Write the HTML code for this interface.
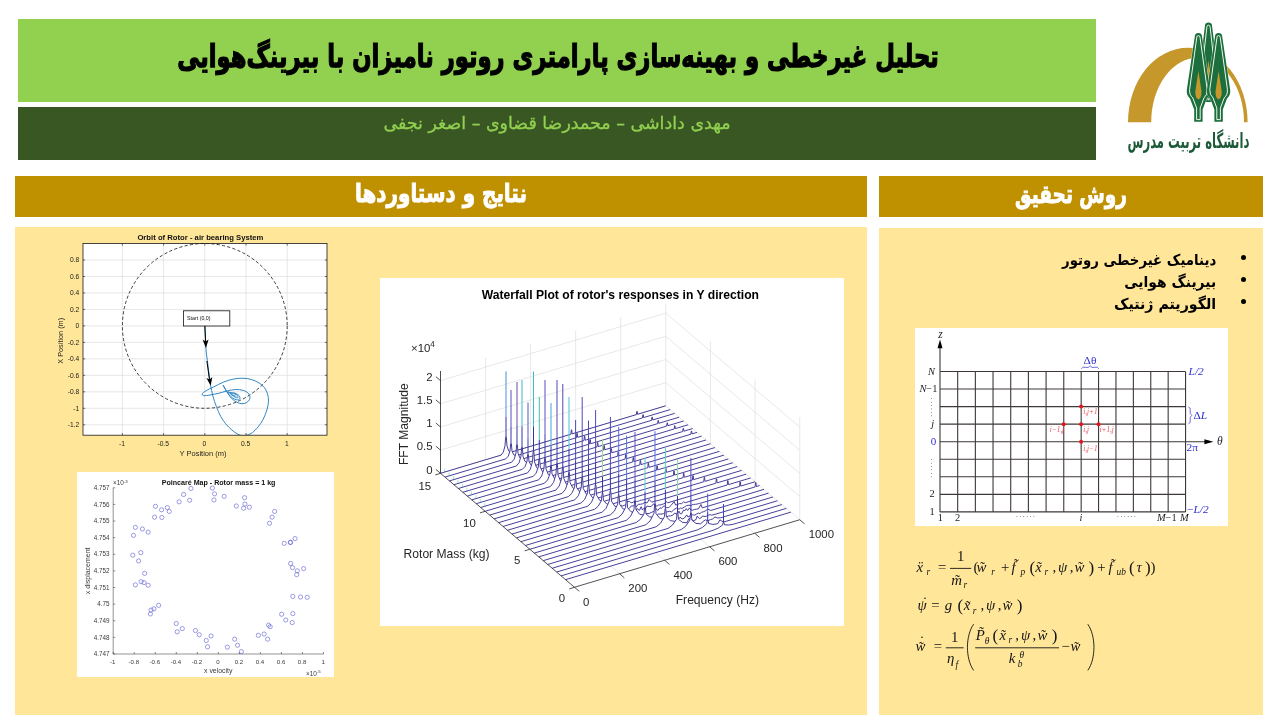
<!DOCTYPE html>
<html lang="fa">
<head>
<meta charset="utf-8">
<title>تحلیل غیرخطی و بهینه‌سازی پارامتری روتور نامیزان با بیرینگ‌هوایی</title>
<style>
*{box-sizing:border-box}
html,body{margin:0;padding:0}
body{width:1280px;height:720px;background:#fff;position:relative;overflow:hidden;font-family:"Liberation Sans","DejaVu Sans",sans-serif}
.abs{position:absolute}
.fa{font-family:"DejaVu Sans","Liberation Sans",sans-serif;direction:rtl;unicode-bidi:isolate;white-space:nowrap}
#title{left:18px;top:19px;width:1078px;height:83px;background:#92d050}
#title h1{margin:0;position:absolute;left:1px;right:-1px;top:15px;text-align:center;font-size:31px;line-height:44px;font-weight:bold;color:#000;transform:scaleX(.732);transform-origin:50% 50%;-webkit-text-stroke:1.25px #000}
#authors{left:18px;top:107px;width:1078px;height:53px;background:#385723}
#authors p{margin:0;position:absolute;left:0;right:0;top:2.5px;text-align:center;font-size:17.45px;line-height:26px;color:#92d050;-webkit-text-stroke:.3px #92d050}
.hd{background:#bf9000;height:41px;top:176px}
.hd h2{margin:0;position:absolute;left:0;right:0;top:-1px;text-align:center;color:#fff;font-weight:bold;font-size:25.5px;line-height:36px;transform-origin:50% 50%;-webkit-text-stroke:.9px #fff}
#hdl h2{transform:scaleX(.781)}
#hdr h2{transform:scaleX(.725);top:0}
#hdl{left:15px;width:852px}
#hdr{left:879px;width:384px}
.panel{background:#ffe699}
#pl{left:15px;top:227px;width:852px;height:488px}
#pr{left:879px;top:228px;width:384px;height:487px}
#bul{margin:0;padding:0;list-style:none;position:absolute;left:0;top:18.2px;width:384px}
#bul li{position:relative;height:22.1px;line-height:22.1px;font-size:15px;font-weight:bold;color:#000;text-align:right;padding-right:47px}
#bul li span{display:inline-block;position:relative;top:2.6px;transform:scaleX(.885);transform-origin:100% 50%}
#bul li:nth-child(2) span{transform:scaleX(.928)}
#bul li:nth-child(3) span{transform:scaleX(.945)}
#bul li::before{content:"";position:absolute;right:17px;top:8.4px;width:5px;height:5px;border-radius:50%;background:#000}
svg{position:absolute;left:0;top:0;overflow:visible}
svg{font-family:"Liberation Sans",sans-serif}
.ser{font-family:"Liberation Serif",serif}
</style>
</head>
<body>
<header id="title" class="abs"><h1 class="fa">تحلیل غیرخطی و بهینه‌سازی پارامتری روتور نامیزان با بیرینگ‌هوایی</h1></header>
<div id="authors" class="abs"><p class="fa">مهدی داداشی – محمدرضا قضاوی – اصغر نجفی</p></div>
<svg id="logo" width="1280" height="720" viewBox="0 0 1280 720" role="img" aria-label="Tarbiat Modares University">
<path fill="#c6972b" d="M1128 122.2A59.8 74.4 0 0 1 1247.6 122.2L1244 122.2A46.4 64.4 0 0 0 1151.2 122.2Z"/>
<path d="M1204.9 26.2A3.6 3.6 0 0 1 1212.1 26.2L1218.9 81Q1219.3 86.5 1215.7 89.5L1211.5 100L1211.5 102L1211.5 102L1205.5 102L1205.5 102L1205.5 100L1201.3 89.5Q1197.7 86.5 1198.1 81Z" fill="#1c6e3c" stroke="#fff" stroke-width="0.6" paint-order="stroke"/>
<path d="M1206.9 26.8A1.6 1.6 0 0 1 1210.1 26.8L1216.1 80.4Q1216.5 85.9 1212.9 88.9L1209.1 98.4L1209.1 99.8L1209.1 99.8L1207.9 99.8L1207.9 99.8L1207.9 98.4L1204.1 88.9Q1200.5 85.9 1200.9 80.4Z" fill="#1c6e3c" stroke="#eef6ea" stroke-width="1"/>
<path d="M1208.5 60.6L1211.6 82.13Q1211.6 89.5 1208.5 90.5Q1205.4 89.5 1205.4 82.13Z" fill="#c6972b"/>
<path d="M1194.8 36.6A3.6 3.6 0 0 1 1202 36.6L1210 90Q1210.4 95.5 1206.8 98.5L1202.6 109.6L1202.6 121.8L1202.6 121.8L1194.2 121.8L1194.2 121.8L1194.2 109.6L1190 98.5Q1186.4 95.5 1186.8 90Z" fill="#1c6e3c" stroke="#fff" stroke-width="0.6" paint-order="stroke"/>
<path d="M1196.8 37.2A1.6 1.6 0 0 1 1200 37.2L1207.2 89.4Q1207.6 94.9 1204 97.9L1200.2 108L1200.2 119.6L1200.2 119.6L1196.6 119.6L1196.6 119.6L1196.6 108L1192.8 97.9Q1189.2 94.9 1189.6 89.4Z" fill="#1c6e3c" stroke="#eef6ea" stroke-width="1"/>
<path d="M1198.4 71L1201.5 91.52Q1201.5 98.5 1198.4 99.5Q1195.3 98.5 1195.3 91.52Z" fill="#c6972b"/>
<path d="M1215 36.6A3.6 3.6 0 0 1 1222.2 36.6L1230.2 90Q1230.6 95.5 1227 98.5L1222.8 109.6L1222.8 121.8L1222.8 121.8L1214.4 121.8L1214.4 121.8L1214.4 109.6L1210.2 98.5Q1206.6 95.5 1207 90Z" fill="#1c6e3c" stroke="#fff" stroke-width="0.6" paint-order="stroke"/>
<path d="M1217 37.2A1.6 1.6 0 0 1 1220.2 37.2L1227.4 89.4Q1227.8 94.9 1224.2 97.9L1220.4 108L1220.4 119.6L1220.4 119.6L1216.8 119.6L1216.8 119.6L1216.8 108L1213 97.9Q1209.4 94.9 1209.8 89.4Z" fill="#1c6e3c" stroke="#eef6ea" stroke-width="1"/>
<path d="M1218.6 71L1221.7 91.52Q1221.7 98.5 1218.6 99.5Q1215.5 98.5 1215.5 91.52Z" fill="#c6972b"/>
<text x="1188.4" y="148.4" text-anchor="middle" font-family="&quot;DejaVu Sans&quot;,&quot;Liberation Sans&quot;,sans-serif" font-size="21" font-weight="bold" fill="#1d5a38" direction="rtl" textLength="122" lengthAdjust="spacingAndGlyphs">دانشگاه تربیت مدرس</text>
</svg>
<div id="hdl" class="abs hd"><h2 class="fa">نتایج و دستاوردها</h2></div>
<div id="hdr" class="abs hd"><h2 class="fa">روش تحقیق</h2></div>
<section id="pl" class="abs panel"></section>
<section id="pr" class="abs panel"><ul id="bul" class="fa"><li><span>دینامیک غیرخطی روتور</span></li><li><span>بیرینگ هوایی</span></li><li><span>الگوریتم ژنتیک</span></li></ul></section>
<svg id="orbit" width="1280" height="720" viewBox="0 0 1280 720" role="img" aria-label="Orbit of Rotor">
<rect x="83" y="243.5" width="244" height="191.7" fill="#fff"/>
<path d="M122.4 243.5V435.2M163.6 243.5V435.2M204.8 243.5V435.2M246 243.5V435.2M287.2 243.5V435.2M83 424.78H327M83 408.3H327M83 391.82H327M83 375.34H327M83 358.86H327M83 342.38H327M83 325.9H327M83 309.42H327M83 292.94H327M83 276.46H327M83 259.98H327" stroke="#dcdcdc" stroke-width="0.7" fill="none"/>
<circle cx="204.8" cy="325.9" r="82.4" fill="none" stroke="#1c1c1c" stroke-width="0.85" stroke-dasharray="3.2 2.2"/>
<clipPath id="oc"><rect x="83" y="243.5" width="244" height="191.7"/></clipPath>
<g clip-path="url(#oc)" fill="none" stroke="#1b79bd" stroke-width="0.9" stroke-linejoin="round">
<path d="M204.8 325.9L206.2 352L210.6 385.6"/>
<path d="M210.62 385.62C211.04 387.5 212.19 393.44 213.12 396.88C214.06 400.31 215 403.02 216.25 406.25C217.5 409.48 219.06 413.33 220.62 416.25C222.19 419.17 223.75 421.46 225.62 423.75C227.5 426.04 229.9 428.29 231.88 430C233.85 431.71 235.73 433.04 237.5 434C239.27 434.96 240.83 435.58 242.5 435.75C244.17 435.92 245.83 435.54 247.5 435C249.17 434.46 250.73 433.85 252.5 432.5C254.27 431.15 256.35 429.06 258.12 426.88C259.9 424.69 261.67 422.19 263.12 419.38C264.58 416.56 265.98 413.02 266.88 410C267.77 406.98 268.4 403.96 268.5 401.25C268.6 398.54 268.19 396.04 267.5 393.75C266.81 391.46 265.83 389.33 264.38 387.5C262.92 385.67 260.94 384.08 258.75 382.75C256.56 381.42 253.85 380.25 251.25 379.5C248.65 378.75 246.04 378.33 243.12 378.25C240.21 378.17 236.98 378.38 233.75 379C230.52 379.62 227.08 380.69 223.75 382C220.42 383.31 216.67 385.44 213.75 386.88C210.83 388.31 208.17 389.48 206.25 390.62C204.33 391.77 202.67 392.92 202.25 393.75C201.83 394.58 202.46 395.42 203.75 395.62C205.04 395.83 207.5 395.4 210 395C212.5 394.6 215.94 393.92 218.75 393.25C221.56 392.58 224.06 391.62 226.88 391C229.69 390.38 232.92 389.6 235.62 389.5C238.33 389.4 241.04 389.77 243.12 390.38C245.21 390.98 246.98 391.98 248.12 393.12C249.27 394.27 249.94 395.94 250 397.25C250.06 398.56 249.44 399.96 248.5 401C247.56 402.04 245.9 403.12 244.38 403.5C242.85 403.88 241.04 403.71 239.38 403.25C237.71 402.79 235.94 401.88 234.38 400.75C232.81 399.62 231.35 398.19 230 396.5C228.65 394.81 227.4 392.5 226.25 390.62C225.1 388.75 223.65 386.15 223.12 385.25"/>
<path d="M223.12 385.25C223.75 386.35 225.52 389.94 226.88 391.88C228.23 393.81 229.69 395.56 231.25 396.88C232.81 398.19 234.83 399.4 236.25 399.75C237.67 400.1 239.29 399.69 239.75 399C240.21 398.31 239.79 396.6 239 395.62C238.21 394.65 236.5 393.65 235 393.12C233.5 392.6 231.15 392.71 230 392.5C228.85 392.29 227.81 391.46 228.12 391.88C228.44 392.29 230.52 394.02 231.88 395C233.23 395.98 235.21 397.38 236.25 397.75C237.29 398.12 238.02 397.71 238.12 397.25C238.23 396.79 237.71 395.62 236.88 395C236.04 394.38 234.17 393.75 233.12 393.5C232.08 393.25 230.52 393.15 230.62 393.5C230.73 393.85 232.81 395.17 233.75 395.62C234.69 396.08 235.83 396.15 236.25 396.25"/>
</g>
<rect x="83" y="243.5" width="244" height="191.7" fill="none" stroke="#1a1a1a" stroke-width="0.8"/>
<path d="M122.4 435.2v-2.2M122.4 243.5v2.2M163.6 435.2v-2.2M163.6 243.5v2.2M204.8 435.2v-2.2M204.8 243.5v2.2M246 435.2v-2.2M246 243.5v2.2M287.2 435.2v-2.2M287.2 243.5v2.2M83 424.78h2.2M327 424.78h-2.2M83 408.3h2.2M327 408.3h-2.2M83 391.82h2.2M327 391.82h-2.2M83 375.34h2.2M327 375.34h-2.2M83 358.86h2.2M327 358.86h-2.2M83 342.38h2.2M327 342.38h-2.2M83 325.9h2.2M327 325.9h-2.2M83 309.42h2.2M327 309.42h-2.2M83 292.94h2.2M327 292.94h-2.2M83 276.46h2.2M327 276.46h-2.2M83 259.98h2.2M327 259.98h-2.2" stroke="#1a1a1a" stroke-width="0.6" fill="none"/>
<rect x="183.4" y="310.8" width="46.4" height="15.2" fill="#fff" stroke="#111" stroke-width="0.8"/>
<text x="187" y="320.4" font-size="5.3" text-anchor="start" fill="#111">Start (0,0)</text>
<path d="M204.9 326L205.6 342" stroke="#000" stroke-width="1" fill="none"/>
<path d="M202.6 339.6L205.9 348L208.6 339.4L205.7 341.6Z" fill="#000"/>
<path d="M206.9 361L209.5 380" stroke="#000" stroke-width="1" fill="none"/>
<path d="M206.4 378L210.7 385.8L212.3 377.1L209.6 379.6Z" fill="#000"/>
<text x="200.4" y="239.8" font-size="7.7" text-anchor="middle" fill="#111" font-weight="bold">Orbit of Rotor - air bearing System</text>
<text x="79.2" y="427.18" font-size="6.7" text-anchor="end" fill="#1a1a1a">-1.2</text>
<text x="79.2" y="410.7" font-size="6.7" text-anchor="end" fill="#1a1a1a">-1</text>
<text x="79.2" y="394.22" font-size="6.7" text-anchor="end" fill="#1a1a1a">-0.8</text>
<text x="79.2" y="377.74" font-size="6.7" text-anchor="end" fill="#1a1a1a">-0.6</text>
<text x="79.2" y="361.26" font-size="6.7" text-anchor="end" fill="#1a1a1a">-0.4</text>
<text x="79.2" y="344.78" font-size="6.7" text-anchor="end" fill="#1a1a1a">-0.2</text>
<text x="79.2" y="328.3" font-size="6.7" text-anchor="end" fill="#1a1a1a">0</text>
<text x="79.2" y="311.82" font-size="6.7" text-anchor="end" fill="#1a1a1a">0.2</text>
<text x="79.2" y="295.34" font-size="6.7" text-anchor="end" fill="#1a1a1a">0.4</text>
<text x="79.2" y="278.86" font-size="6.7" text-anchor="end" fill="#1a1a1a">0.6</text>
<text x="79.2" y="262.38" font-size="6.7" text-anchor="end" fill="#1a1a1a">0.8</text>
<text x="122" y="446.3" font-size="6.7" text-anchor="middle" fill="#1a1a1a">-1</text>
<text x="163.2" y="446.3" font-size="6.7" text-anchor="middle" fill="#1a1a1a">-0.5</text>
<text x="204.4" y="446.3" font-size="6.7" text-anchor="middle" fill="#1a1a1a">0</text>
<text x="245.6" y="446.3" font-size="6.7" text-anchor="middle" fill="#1a1a1a">0.5</text>
<text x="286.8" y="446.3" font-size="6.7" text-anchor="middle" fill="#1a1a1a">1</text>
<text x="203" y="456.2" font-size="7.5" text-anchor="middle" fill="#262626">Y Position (m)</text>
<text x="0" y="0" font-size="7.3" text-anchor="middle" fill="#262626" transform="translate(62.8 340.8) rotate(-90)">X Position (m)</text>
</svg>
<svg id="poincare" width="1280" height="720" viewBox="0 0 1280 720" role="img" aria-label="Poincare Map">
<rect x="77" y="472" width="257" height="205" fill="#fff"/>
<path d="M113.2 487.8V654H323.5" fill="none" stroke="#4a4a4a" stroke-width="0.6"/>
<path d="M113.2 487.8h2M113.2 654v-2M113.2 504.42h2M134.23 654v-2M113.2 521.04h2M155.26 654v-2M113.2 537.66h2M176.29 654v-2M113.2 554.28h2M197.32 654v-2M113.2 570.9h2M218.35 654v-2M113.2 587.52h2M239.38 654v-2M113.2 604.14h2M260.41 654v-2M113.2 620.76h2M281.44 654v-2M113.2 637.38h2M302.47 654v-2M113.2 654h2M323.5 654v-2" stroke="#3a3a3a" stroke-width="0.6" fill="none"/>
<g fill="none" stroke="#5a5ad2" stroke-width="0.6">
<circle cx="212.35" cy="488.11" r="2.1"/><circle cx="190.95" cy="488.43" r="2.1"/><circle cx="183.6" cy="494.49" r="2.1"/><circle cx="214.58" cy="493.85" r="2.1"/><circle cx="213.94" cy="499.92" r="2.1"/><circle cx="224.16" cy="496.41" r="2.1"/><circle cx="179.13" cy="501.84" r="2.1"/><circle cx="189.67" cy="500.24" r="2.1"/><circle cx="244.6" cy="497.69" r="2.1"/><circle cx="236.3" cy="505.99" r="2.1"/><circle cx="244.92" cy="504.07" r="2.1"/><circle cx="243.65" cy="508.23" r="2.1"/><circle cx="249.39" cy="507.27" r="2.1"/><circle cx="155.5" cy="506.31" r="2.1"/><circle cx="161.56" cy="509.82" r="2.1"/><circle cx="167.31" cy="507.59" r="2.1"/><circle cx="169.23" cy="511.42" r="2.1"/><circle cx="154.54" cy="517.17" r="2.1"/><circle cx="161.88" cy="517.49" r="2.1"/><circle cx="274.63" cy="511.42" r="2.1"/><circle cx="272.07" cy="517.17" r="2.1"/><circle cx="269.52" cy="523.24" r="2.1"/><circle cx="135.37" cy="527.39" r="2.1"/><circle cx="142.4" cy="528.99" r="2.1"/><circle cx="148.15" cy="532.18" r="2.1"/><circle cx="133.46" cy="535.37" r="2.1"/><circle cx="295.07" cy="538.57" r="2.1"/><circle cx="284.21" cy="543.36" r="2.1"/><circle cx="290.28" cy="542.4" r="2.1"/><circle cx="290.59" cy="542.4" r="2.1"/><circle cx="132.82" cy="555.18" r="2.1"/><circle cx="140.8" cy="552.62" r="2.1"/><circle cx="138.57" cy="560.93" r="2.1"/><circle cx="290.59" cy="563.48" r="2.1"/><circle cx="292.51" cy="567.63" r="2.1"/><circle cx="297.3" cy="570.83" r="2.1"/><circle cx="303.69" cy="568.59" r="2.1"/><circle cx="296.66" cy="574.66" r="2.1"/><circle cx="144.64" cy="573.38" r="2.1"/><circle cx="141.12" cy="581.69" r="2.1"/><circle cx="144" cy="582.64" r="2.1"/><circle cx="135.37" cy="584.88" r="2.1"/><circle cx="148.15" cy="585.2" r="2.1"/><circle cx="292.83" cy="596.38" r="2.1"/><circle cx="300.5" cy="597.02" r="2.1"/><circle cx="307.2" cy="597.33" r="2.1"/><circle cx="158.69" cy="605.32" r="2.1"/><circle cx="153.9" cy="608.83" r="2.1"/><circle cx="151.02" cy="610.11" r="2.1"/><circle cx="150.39" cy="613.94" r="2.1"/><circle cx="281.65" cy="614.26" r="2.1"/><circle cx="292.83" cy="613.62" r="2.1"/><circle cx="285.8" cy="620.01" r="2.1"/><circle cx="292.19" cy="622.57" r="2.1"/><circle cx="176.26" cy="623.52" r="2.1"/><circle cx="182.32" cy="628.63" r="2.1"/><circle cx="177.21" cy="631.83" r="2.1"/><circle cx="195.42" cy="630.55" r="2.1"/><circle cx="199.25" cy="634.7" r="2.1"/><circle cx="211.07" cy="635.98" r="2.1"/><circle cx="268.56" cy="625.12" r="2.1"/><circle cx="270.15" cy="626.72" r="2.1"/><circle cx="258.34" cy="635.34" r="2.1"/><circle cx="264.09" cy="634.06" r="2.1"/><circle cx="267.6" cy="639.17" r="2.1"/><circle cx="234.7" cy="639.17" r="2.1"/><circle cx="237.58" cy="645.24" r="2.1"/><circle cx="241.41" cy="651.63" r="2.1"/><circle cx="206.28" cy="640.45" r="2.1"/><circle cx="207.56" cy="646.84" r="2.1"/><circle cx="227.36" cy="647.16" r="2.1"/>
</g>
<text x="218.6" y="484.6" font-size="7.1" text-anchor="middle" fill="#111" font-weight="bold">Poincaré Map - Rotor mass = 1 kg</text>
<text x="109.6" y="490" font-size="6.3" text-anchor="end" fill="#3a3a3a">4.757</text>
<text x="109.6" y="506.62" font-size="6.3" text-anchor="end" fill="#3a3a3a">4.756</text>
<text x="109.6" y="523.24" font-size="6.3" text-anchor="end" fill="#3a3a3a">4.755</text>
<text x="109.6" y="539.86" font-size="6.3" text-anchor="end" fill="#3a3a3a">4.754</text>
<text x="109.6" y="556.48" font-size="6.3" text-anchor="end" fill="#3a3a3a">4.753</text>
<text x="109.6" y="573.1" font-size="6.3" text-anchor="end" fill="#3a3a3a">4.752</text>
<text x="109.6" y="589.72" font-size="6.3" text-anchor="end" fill="#3a3a3a">4.751</text>
<text x="109.6" y="606.34" font-size="6.3" text-anchor="end" fill="#3a3a3a">4.75</text>
<text x="109.6" y="622.96" font-size="6.3" text-anchor="end" fill="#3a3a3a">4.749</text>
<text x="109.6" y="639.58" font-size="6.3" text-anchor="end" fill="#3a3a3a">4.748</text>
<text x="109.6" y="656.2" font-size="6.3" text-anchor="end" fill="#3a3a3a">4.747</text>
<text x="112.8" y="663.8" font-size="6.1" text-anchor="middle" fill="#3a3a3a">-1</text>
<text x="133.83" y="663.8" font-size="6.1" text-anchor="middle" fill="#3a3a3a">-0.8</text>
<text x="154.86" y="663.8" font-size="6.1" text-anchor="middle" fill="#3a3a3a">-0.6</text>
<text x="175.89" y="663.8" font-size="6.1" text-anchor="middle" fill="#3a3a3a">-0.4</text>
<text x="196.92" y="663.8" font-size="6.1" text-anchor="middle" fill="#3a3a3a">-0.2</text>
<text x="217.95" y="663.8" font-size="6.1" text-anchor="middle" fill="#3a3a3a">0</text>
<text x="238.98" y="663.8" font-size="6.1" text-anchor="middle" fill="#3a3a3a">0.2</text>
<text x="260.01" y="663.8" font-size="6.1" text-anchor="middle" fill="#3a3a3a">0.4</text>
<text x="281.04" y="663.8" font-size="6.1" text-anchor="middle" fill="#3a3a3a">0.6</text>
<text x="302.07" y="663.8" font-size="6.1" text-anchor="middle" fill="#3a3a3a">0.8</text>
<text x="323.1" y="663.8" font-size="6.1" text-anchor="middle" fill="#3a3a3a">1</text>
<text x="218.2" y="673" font-size="6.9" text-anchor="middle" fill="#3a3a3a">x velocity</text>
<text x="0" y="0" font-size="7" text-anchor="middle" fill="#3a3a3a" transform="translate(90.2 570.8) rotate(-90)">x displacement</text>
<text x="113" y="485.2" font-size="6.4" fill="#3a3a3a">×10<tspan dy="-2.4" font-size="4.4">-3</tspan></text>
<text x="306" y="675.6" font-size="6.4" fill="#3a3a3a">×10<tspan dy="-2.4" font-size="4.4">-5</tspan></text>
</svg>
<svg id="waterfall" width="1280" height="720" viewBox="0 0 1280 720" role="img" aria-label="Waterfall plot">
<rect x="380" y="278" width="464" height="348" fill="#fff"/>
<path d="M440.5 473.3V371.01M485.55 459.8V357.51M530.6 446.3V344.01M575.65 432.8V330.51M620.7 419.3V317.01M665.75 405.8V303.51M710.42 443.78V341.49M755.08 481.77V379.47M799.75 519.75V417.46M440.5 473.3L665.75 405.8L799.75 519.75M440.5 450.12L665.75 382.62L799.75 496.57M440.5 426.95L665.75 359.45L799.75 473.4M440.5 403.77L665.75 336.27L799.75 450.23M440.5 380.6L665.75 313.1L799.75 427.05M610.62 566.15L619.55 573.75M655.67 552.65L664.6 560.25M700.72 539.15L709.65 546.75M745.77 525.65L754.7 533.25" fill="none" stroke="#dedede" stroke-width="0.7"/>
<g fill="none" stroke-linejoin="round" stroke-linecap="butt">
<path d="M440.5 473.3L501.06 455.15L503.4 451.98L505 445.73L505.65 437.2L506.35 437.2L507 445.96L508.6 450.83L510.94 452.19L570.9 434.22L571.3 429.84L571.7 429.84L572.1 433.86L636.4 414.6L636.8 411.42L637.2 411.42L637.6 414.24L665.75 405.8Z" fill="#fff" stroke="none"/>
<path d="M444.55 472.09v-3.4" stroke="#8fe0d2" stroke-width="0.8"/>
<path d="M440.5 473.3L501.06 455.15L503.4 451.98L505 445.73L505.65 437.2L506.35 437.2L507 445.96L508.6 450.83L510.94 452.19L570.9 434.22L571.3 429.84L571.7 429.84L572.1 433.86L636.4 414.6L636.8 411.42L637.2 411.42L637.6 414.24L665.75 405.8" stroke="#33298f" stroke-width="0.9"/>
<path d="M506 437.2V416.6" stroke="#3436a8" stroke-width="1"/>
<path d="M506 416.6V371.3" stroke="#4a8fd6" stroke-width="1"/>
<path d="M444.97 477.1L505.87 458.85L508.3 456.1L510 450.88L510.65 443.85L511.35 443.85L512 450.95L513.7 454.82L516.13 455.77L576.43 437.7L576.83 433.32L577.23 433.32L577.63 437.34L642.47 417.91L642.87 414.73L643.27 414.73L643.67 417.55L670.22 409.6Z" fill="#fff" stroke="none"/>
<path d="M449.02 475.88v-3.4" stroke="#8fe0d2" stroke-width="0.8"/>
<path d="M444.97 477.1L505.87 458.85L508.3 456.1L510 450.88L510.65 443.85L511.35 443.85L512 450.95L513.7 454.82L516.13 455.77L576.43 437.7L576.83 433.32L577.23 433.32L577.63 437.34L642.47 417.91L642.87 414.73L643.27 414.73L643.67 417.55L670.22 409.6" stroke="#33298f" stroke-width="0.9"/>
<path d="M511 443.85V427.02" stroke="#3436a8" stroke-width="1"/>
<path d="M511 427.02V390" stroke="#5b4fc0" stroke-width="1"/>
<path d="M449.43 480.9L511.68 462.24L514.2 459.13L516 453.08L516.65 444.92L517.35 444.92L518 453.27L519.8 457.84L522.32 459.05L583.97 440.58L584.37 436.2L584.77 436.2L585.17 440.22L651.53 420.33L651.93 417.15L652.33 417.15L652.73 419.97L674.68 413.4Z" fill="#fff" stroke="none"/>
<path d="M453.49 479.68v-3.4" stroke="#8fe0d2" stroke-width="0.8"/>
<path d="M449.43 480.9L511.68 462.24L514.2 459.13L516 453.08L516.65 444.92L517.35 444.92L518 453.27L519.8 457.84L522.32 459.05L583.97 440.58L584.37 436.2L584.77 436.2L585.17 440.22L651.53 420.33L651.93 417.15L652.33 417.15L652.73 419.97L674.68 413.4" stroke="#33298f" stroke-width="0.9"/>
<path d="M517 444.92V425.26" stroke="#3436a8" stroke-width="1"/>
<path d="M517 425.26V382" stroke="#6a4aa8" stroke-width="1"/>
<path d="M453.9 484.69L516.49 465.94L519.1 462.63L521 456.16L521.65 447.43L522.35 447.43L523 456.4L524.9 461.31L527.51 462.64L589.5 444.06L589.9 439.68L590.3 439.68L590.7 443.7L657.6 423.65L658 420.47L658.4 420.47L658.8 423.29L679.15 417.19Z" fill="#fff" stroke="none"/>
<path d="M457.95 483.48v-3.4" stroke="#8fe0d2" stroke-width="0.8"/>
<path d="M453.9 484.69L516.49 465.94L519.1 462.63L521 456.16L521.65 447.43L522.35 447.43L523 456.4L524.9 461.31L527.51 462.64L589.5 444.06L589.9 439.68L590.3 439.68L590.7 443.7L657.6 423.65L658 420.47L658.4 420.47L658.8 423.29L679.15 417.19" stroke="#33298f" stroke-width="0.9"/>
<path d="M522 447.43V426.36" stroke="#3436a8" stroke-width="1"/>
<path d="M522 426.36V380" stroke="#3fb8c8" stroke-width="1"/>
<path d="M458.37 488.49L522.3 469.33L525 466.57L527 461.41L527.65 454.6L528.35 454.6L529 461.47L531 465.1L533.7 465.92L597.03 446.94L597.43 442.56L597.83 442.56L598.23 446.58L666.67 426.07L667.07 422.89L667.47 422.89L667.87 425.71L683.62 420.99Z" fill="#fff" stroke="none"/>
<path d="M462.42 487.28v-3.4" stroke="#8fe0d2" stroke-width="0.8"/>
<path d="M458.37 488.49L522.3 469.33L525 466.57L527 461.41L527.65 454.6L528.35 454.6L529 461.47L531 465.1L533.7 465.92L597.03 446.94L597.43 442.56L597.83 442.56L598.23 446.58L666.67 426.07L667.07 422.89L667.47 422.89L667.87 425.71L683.62 420.99" stroke="#33298f" stroke-width="0.9"/>
<path d="M528 454.6V438.32" stroke="#3436a8" stroke-width="1"/>
<path d="M528 438.32V402.5" stroke="#5a55c4" stroke-width="1"/>
<path d="M462.83 492.29L527.61 472.88L530.4 469.06L532.5 461.45L533.15 451.19L533.85 451.19L534.5 461.85L536.6 467.7L539.39 469.35L603.57 450.12L603.97 445.74L604.37 445.74L604.77 449.76L674.23 428.94L674.63 425.76L675.03 425.76L675.43 428.58L688.08 424.79Z" fill="#fff" stroke="none"/>
<path d="M466.89 491.08v-3.4" stroke="#8fe0d2" stroke-width="0.8"/>
<path d="M462.83 492.29L527.61 472.88L530.4 469.06L532.5 461.45L533.15 451.19L533.85 451.19L534.5 461.85L536.6 467.7L539.39 469.35L603.57 450.12L603.97 445.74L604.37 445.74L604.77 449.76L674.23 428.94L674.63 425.76L675.03 425.76L675.43 428.58L688.08 424.79" stroke="#33298f" stroke-width="0.9"/>
<path d="M533.5 451.19V426.29" stroke="#3436a8" stroke-width="1"/>
<path d="M533.5 426.29V371.5" stroke="#39c0cc" stroke-width="1"/>
<path d="M467.3 496.09L533.22 476.34L536.1 473.15L538.3 467.06L538.95 459.01L539.65 459.01L540.3 467.24L542.5 471.62L545.38 472.69L610.7 453.12L611.1 448.74L611.5 448.74L611.9 452.76L682.7 431.54L683.1 428.36L683.5 428.36L683.9 431.18L692.55 428.59Z" fill="#fff" stroke="none"/>
<path d="M471.35 494.88v-3.4" stroke="#8fe0d2" stroke-width="0.8"/>
<path d="M467.3 496.09L533.22 476.34L536.1 473.15L538.3 467.06L538.95 459.01L539.65 459.01L540.3 467.24L542.5 471.62L545.38 472.69L610.7 453.12L611.1 448.74L611.5 448.74L611.9 452.76L682.7 431.54L683.1 428.36L683.5 428.36L683.9 431.18L692.55 428.59" stroke="#33298f" stroke-width="0.9"/>
<path d="M539.3 459.01V439.63" stroke="#3436a8" stroke-width="1"/>
<path d="M539.3 439.63V397" stroke="#3fc0b0" stroke-width="1"/>
<path d="M471.77 499.89L538.73 479.82L541.7 475.99L544 468.45L544.65 458.35L545.35 458.35L546 468.83L548.3 474.51L551.27 476.06L617.63 456.18L618.03 451.8L618.43 451.8L618.83 455.82L690.87 434.23L691.27 431.05L691.67 431.05L692.07 433.87L697.02 432.39Z" fill="#fff" stroke="none"/>
<path d="M475.82 498.67v-3.4" stroke="#8fe0d2" stroke-width="0.8"/>
<path d="M471.77 499.89L538.73 479.82L541.7 475.99L544 468.45L544.65 458.35L545.35 458.35L546 468.83L548.3 474.51L551.27 476.06L617.63 456.18L618.03 451.8L618.43 451.8L618.83 455.82L690.87 434.23L691.27 431.05L691.67 431.05L692.07 433.87L697.02 432.39" stroke="#33298f" stroke-width="0.9"/>
<path d="M545 458.35V433.87" stroke="#3436a8" stroke-width="1"/>
<path d="M545 433.87V380" stroke="#5a4fc0" stroke-width="1"/>
<path d="M476.23 503.69L544.54 483.22L547.6 479.95L550 473.75L550.65 465.63L551.35 465.63L552 473.94L554.4 478.31L557.46 479.35L625.17 459.06L625.57 454.68L625.97 454.68L626.37 458.7L701.48 436.19Z" fill="#fff" stroke="none"/>
<path d="M480.29 502.47v-3.4" stroke="#8fe0d2" stroke-width="0.8"/>
<path d="M476.23 503.69L544.54 483.22L547.6 479.95L550 473.75L550.65 465.63L551.35 465.63L552 473.94L554.4 478.31L557.46 479.35L625.17 459.06L625.57 454.68L625.97 454.68L626.37 458.7L701.48 436.19" stroke="#33298f" stroke-width="0.9"/>
<path d="M551 465.63V446.05" stroke="#3436a8" stroke-width="1"/>
<path d="M551 446.05V403" stroke="#46a0dc" stroke-width="1"/>
<path d="M480.7 507.49L550.35 486.61L553.5 482.53L556 474.46L556.65 463.7L557.35 463.7L558 474.9L560.5 480.96L563.65 482.63L632.7 461.94L633.1 457.56L633.5 457.56L633.9 461.58L705.95 439.99Z" fill="#fff" stroke="none"/>
<path d="M484.75 506.27v-3.4" stroke="#8fe0d2" stroke-width="0.8"/>
<path d="M480.7 507.49L550.35 486.61L553.5 482.53L556 474.46L556.65 463.7L557.35 463.7L558 474.9L560.5 480.96L563.65 482.63L632.7 461.94L633.1 457.56L633.5 457.56L633.9 461.58L705.95 439.99" stroke="#33298f" stroke-width="0.9"/>
<path d="M557 463.7V437.54" stroke="#3436a8" stroke-width="1"/>
<path d="M557 437.54V380" stroke="#5048b8" stroke-width="1"/>
<path d="M485.17 511.28L555.96 490.07L559.2 485.98L561.8 477.92L562.45 467.22L563.15 467.22L563.8 478.36L566.4 484.34L569.64 485.97L639.83 464.93L640.23 460.56L640.63 460.56L641.03 464.58L710.42 443.78Z" fill="#fff" stroke="none"/>
<path d="M485.17 511.28L555.96 490.07L559.2 485.98L561.8 477.92L562.45 467.22L563.15 467.22L563.8 478.36L566.4 484.34L569.64 485.97L639.83 464.93L640.23 460.56L640.63 460.56L641.03 464.58L710.42 443.78" stroke="#33298f" stroke-width="0.9"/>
<path d="M562.8 467.22V441.21" stroke="#3436a8" stroke-width="1"/>
<path d="M562.8 441.21V384" stroke="#5048b8" stroke-width="1"/>
<path d="M489.63 515.08L561.97 493.4L565.3 489.58L568 482.17L568.65 472.44L569.35 472.44L570 482.51L572.7 487.83L576.03 489.19L647.77 467.69L648.17 463.31L648.57 463.31L648.97 467.33L714.88 447.58Z" fill="#fff" stroke="none"/>
<path d="M489.63 515.08L561.97 493.4L565.3 489.58L568 482.17L568.65 472.44L569.35 472.44L570 482.51L572.7 487.83L576.03 489.19L647.77 467.69L648.17 463.31L648.57 463.31L648.97 467.33L714.88 447.58" stroke="#33298f" stroke-width="0.9"/>
<path d="M569 472.44V448.86" stroke="#3436a8" stroke-width="1"/>
<path d="M569 448.86V397" stroke="#46c4d4" stroke-width="1"/>
<path d="M494.1 518.88L568.38 496.62L571.8 493.36L574.6 487.31L575.25 479.57L575.95 479.57L576.6 487.46L579.4 491.46L582.82 492.29L656.5 470.21L656.9 465.83L657.3 465.83L657.7 469.85L719.35 451.38Z" fill="#fff" stroke="none"/>
<path d="M494.1 518.88L568.38 496.62L571.8 493.36L574.6 487.31L575.25 479.57L575.95 479.57L576.6 487.46L579.4 491.46L582.82 492.29L656.5 470.21L656.9 465.83L657.3 465.83L657.7 469.85L719.35 451.38" stroke="#33298f" stroke-width="0.9"/>
<path d="M575.6 479.57V460.95" stroke="#3436a8" stroke-width="1"/>
<path d="M575.6 460.95V420" stroke="#5048b8" stroke-width="1"/>
<path d="M498.57 522.68L574.79 499.84L578.3 495.77L581.2 487.85L581.85 477.49L582.55 477.49L583.2 488.26L586.1 493.93L589.61 495.4L665.23 472.73L665.63 468.35L666.03 468.35L666.43 472.37L723.82 455.18Z" fill="#fff" stroke="none"/>
<path d="M498.57 522.68L574.79 499.84L578.3 495.77L581.2 487.85L581.85 477.49L582.55 477.49L583.2 488.26L586.1 493.93L589.61 495.4L665.23 472.73L665.63 468.35L666.03 468.35L666.43 472.37L723.82 455.18" stroke="#33298f" stroke-width="0.9"/>
<path d="M582.2 477.49V452.34" stroke="#3436a8" stroke-width="1"/>
<path d="M582.2 452.34V397" stroke="#5048b8" stroke-width="1"/>
<path d="M503.03 526.48L580.9 503.14L584.5 499.66L587.5 493.14L588.15 484.81L588.85 484.81L589.5 493.34L592.5 497.66L596.1 498.59L673.37 475.43L673.77 471.05L674.17 471.05L674.57 475.07L728.28 458.98Z" fill="#fff" stroke="none"/>
<path d="M503.03 526.48L580.9 503.14L584.5 499.66L587.5 493.14L588.15 484.81L588.85 484.81L589.5 493.34L592.5 497.66L596.1 498.59L673.37 475.43L673.77 471.05L674.17 471.05L674.57 475.07L728.28 458.98" stroke="#33298f" stroke-width="0.9"/>
<path d="M588.5 484.81V464.75" stroke="#3436a8" stroke-width="1"/>
<path d="M588.5 464.75V420.6" stroke="#5048b8" stroke-width="1"/>
<path d="M507.5 530.27L587.81 506.21L591.5 502.29L594.6 494.79L595.25 485.1L595.95 485.1L596.6 495.13L599.7 500.3L603.39 501.54L683.1 477.65L683.5 473.27L683.9 473.27L684.3 477.29L732.75 462.77Z" fill="#fff" stroke="none"/>
<path d="M507.5 530.27L587.81 506.21L591.5 502.29L594.6 494.79L595.25 485.1L595.95 485.1L596.6 495.13L599.7 500.3L603.39 501.54L683.1 477.65L683.5 473.27L683.9 473.27L684.3 477.29L732.75 462.77" stroke="#33298f" stroke-width="0.9"/>
<path d="M595.6 485.1V461.63" stroke="#3436a8" stroke-width="1"/>
<path d="M595.6 461.63V410" stroke="#5048b8" stroke-width="1"/>
<path d="M511.97 534.07L594.52 509.33L598.3 506.15L601.5 500.42L602.15 493.29L602.85 493.29L603.5 500.5L606.7 503.98L610.48 504.55L692.43 479.99L692.83 475.61L693.23 475.61L693.63 479.63L737.22 466.57Z" fill="#fff" stroke="none"/>
<path d="M511.97 534.07L594.52 509.33L598.3 506.15L601.5 500.42L602.15 493.29L602.85 493.29L603.5 500.5L606.7 503.98L610.48 504.55L692.43 479.99L692.83 475.61L693.23 475.61L693.63 479.63L737.22 466.57" stroke="#33298f" stroke-width="0.9"/>
<path d="M602.5 493.29V476.23" stroke="#3436a8" stroke-width="1"/>
<path d="M602.5 476.23V438.7" stroke="#9ad88a" stroke-width="1"/>
<path d="M516.43 537.87L602.23 512.16L606.1 508.22L609.4 500.73L610.05 491.15L610.75 491.15L611.4 501.06L614.7 506.1L618.57 507.26L620.16 505.67L621.36 505.32L622.55 505.96L624.3 505.42L626.04 504.53L627.47 501.44L629.44 501.52L630.61 502.46L631.93 502.77L634.25 501.51L636.31 501.41L637.5 501.48L639.62 500.62L641.6 500.03L643.1 499.91L703.77 481.73L704.17 477.35L704.57 477.35L704.97 481.37L741.68 470.37Z" fill="#fff" stroke="none"/>
<path d="M516.43 537.87L602.23 512.16L606.1 508.22L609.4 500.73L610.05 491.15L610.75 491.15L611.4 501.06L614.7 506.1L618.57 507.26L620.16 505.67L621.36 505.32L622.55 505.96L624.3 505.42L626.04 504.53L627.47 501.44L629.44 501.52L630.61 502.46L631.93 502.77L634.25 501.51L636.31 501.41L637.5 501.48L639.62 500.62L641.6 500.03L643.1 499.91L703.77 481.73L704.17 477.35L704.57 477.35L704.97 481.37L741.68 470.37" stroke="#33298f" stroke-width="0.9"/>
<path d="M610.4 491.15V467.95" stroke="#3436a8" stroke-width="1"/>
<path d="M610.4 467.95V416.9" stroke="#5048b8" stroke-width="1"/>
<path d="M520.9 541.67L610.34 514.87L614.3 511.12L617.7 504.12L618.35 495.27L619.05 495.27L619.7 504.37L623.1 508.91L627.06 509.86L629.35 508.3L631.31 505.97L633.51 505.79L634.78 505.56L636.11 507.03L638.21 504.34L640.63 504.22L642.62 503.75L644.98 502.4L647.08 502.87L649.15 499.48L650.67 501.1L651.81 502.26L653.08 501.63L654.38 501.35L656.78 500.69L658.28 500.5L715.9 483.23L716.3 478.86L716.7 478.86L717.1 482.88L746.15 474.17Z" fill="#fff" stroke="none"/>
<path d="M520.9 541.67L610.34 514.87L614.3 511.12L617.7 504.12L618.35 495.27L619.05 495.27L619.7 504.37L623.1 508.91L627.06 509.86L629.35 508.3L631.31 505.97L633.51 505.79L634.78 505.56L636.11 507.03L638.21 504.34L640.63 504.22L642.62 503.75L644.98 502.4L647.08 502.87L649.15 499.48L650.67 501.1L651.81 502.26L653.08 501.63L654.38 501.35L656.78 500.69L658.28 500.5L715.9 483.23L716.3 478.86L716.7 478.86L717.1 482.88L746.15 474.17" stroke="#33298f" stroke-width="0.9"/>
<path d="M618.7 495.27V473.9" stroke="#3436a8" stroke-width="1"/>
<path d="M618.7 473.9V426.9" stroke="#5a6ce0" stroke-width="1"/>
<path d="M525.37 545.47L618.05 517.69L622.1 514.09L625.6 507.48L626.25 499.23L626.95 499.23L627.6 507.67L631.1 511.8L635.15 512.57L637.07 508.55L639.47 510.38L641.11 506.76L642.43 509.97L643.88 508.27L645.38 509L647.03 506.03L649.17 506.55L651.28 506.49L653.55 503.73L655.24 506.28L657.29 505.84L658.71 504.92L659.88 504.98L661.14 504.76L663.55 503.86L665.03 503.27L666.31 501.61L667.81 502.78L727.23 484.98L727.63 480.6L728.03 480.6L728.43 484.62L750.62 477.97Z" fill="#fff" stroke="none"/>
<path d="M525.37 545.47L618.05 517.69L622.1 514.09L625.6 507.48L626.25 499.23L626.95 499.23L627.6 507.67L631.1 511.8L635.15 512.57L637.07 508.55L639.47 510.38L641.11 506.76L642.43 509.97L643.88 508.27L645.38 509L647.03 506.03L649.17 506.55L651.28 506.49L653.55 503.73L655.24 506.28L657.29 505.84L658.71 504.92L659.88 504.98L661.14 504.76L663.55 503.86L665.03 503.27L666.31 501.61L667.81 502.78L727.23 484.98L727.63 480.6L728.03 480.6L728.43 484.62L750.62 477.97" stroke="#33298f" stroke-width="0.9"/>
<path d="M626.6 499.23V479.34" stroke="#3436a8" stroke-width="1"/>
<path d="M626.6 479.34V435.6" stroke="#4a78dc" stroke-width="1"/>
<path d="M529.83 549.27L626.26 520.37L630.4 516.55L634 509.47L634.65 500.58L635.35 500.58L636 509.73L639.6 514.23L643.74 515.13L645.54 514.35L646.79 513.59L649.14 513.48L651.66 512.32L653.58 511.5L656.14 508.54L657.64 510.56L659.89 507.95L661.49 508.22L664.07 505.74L666.39 507.5L668.27 507.71L669.41 506.88L671.55 504.81L674.06 501.69L675.7 505.11L677.1 504.66L679.55 503.62L681.63 503.65L683.72 501.81L685.22 502.7L739.57 486.42L739.97 482.04L740.37 482.04L740.77 486.06L755.08 481.77Z" fill="#fff" stroke="none"/>
<path d="M529.83 549.27L626.26 520.37L630.4 516.55L634 509.47L634.65 500.58L635.35 500.58L636 509.73L639.6 514.23L643.74 515.13L645.54 514.35L646.79 513.59L649.14 513.48L651.66 512.32L653.58 511.5L656.14 508.54L657.64 510.56L659.89 507.95L661.49 508.22L664.07 505.74L666.39 507.5L668.27 507.71L669.41 506.88L671.55 504.81L674.06 501.69L675.7 505.11L677.1 504.66L679.55 503.62L681.63 503.65L683.72 501.81L685.22 502.7L739.57 486.42L739.97 482.04L740.37 482.04L740.77 486.06L755.08 481.77" stroke="#33298f" stroke-width="0.9"/>
<path d="M635 500.58V479.12" stroke="#3436a8" stroke-width="1"/>
<path d="M635 479.12V431.9" stroke="#5a55c4" stroke-width="1"/>
<path d="M534.3 553.07L636.07 522.57L640.3 519.44L644 514L644.65 507.51L645.35 507.51L646 514.02L649.7 516.94L653.93 517.22L656.16 516.04L658.44 514L661 514.08L663.52 513.72L664.81 512.41L667.12 511.86L669.69 511.29L671.61 511.89L674.17 509.36L676.67 508.07L679.01 509.22L680.55 508.06L682.03 508.45L684.5 506.95L686.47 505.67L688.95 505.18L690.84 505.6L692.21 504.77L693.57 504.52L695.5 504.28L697.44 504.01L699.38 503.37L700.88 503.15L755.1 486.9L755.5 482.52L755.9 482.52L756.3 486.54L759.55 485.56Z" fill="#fff" stroke="none"/>
<path d="M534.3 553.07L636.07 522.57L640.3 519.44L644 514L644.65 507.51L645.35 507.51L646 514.02L649.7 516.94L653.93 517.22L656.16 516.04L658.44 514L661 514.08L663.52 513.72L664.81 512.41L667.12 511.86L669.69 511.29L671.61 511.89L674.17 509.36L676.67 508.07L679.01 509.22L680.55 508.06L682.03 508.45L684.5 506.95L686.47 505.67L688.95 505.18L690.84 505.6L692.21 504.77L693.57 504.52L695.5 504.28L697.44 504.01L699.38 503.37L700.88 503.15L755.1 486.9L755.5 482.52L755.9 482.52L756.3 486.54L759.55 485.56" stroke="#33298f" stroke-width="0.9"/>
<path d="M645 507.51V492.04" stroke="#3436a8" stroke-width="1"/>
<path d="M645 492.04V458" stroke="#56d0c8" stroke-width="1"/>
<path d="M538.77 556.86L645.88 524.76L650.2 520.75L654 513.25L654.65 503.87L655.35 503.87L656 513.56L659.8 518.32L664.12 519.3L666.38 516.98L668.62 516.04L670.64 515.85L672.78 515.24L674.59 513.08L677.01 514.29L678.95 511.15L680.25 513.75L681.46 513.95L683.57 510L684.9 510.67L686.21 508.61L687.64 510.48L689.47 507.9L690.81 509.92L692.42 510.22L694.61 509.46L696.37 509.22L698.4 508.84L700.98 504.48L702.24 507.84L706.01 506.75L764.02 489.36Z" fill="#fff" stroke="none"/>
<path d="M538.77 556.86L645.88 524.76L650.2 520.75L654 513.25L654.65 503.87L655.35 503.87L656 513.56L659.8 518.32L664.12 519.3L666.38 516.98L668.62 516.04L670.64 515.85L672.78 515.24L674.59 513.08L677.01 514.29L678.95 511.15L680.25 513.75L681.46 513.95L683.57 510L684.9 510.67L686.21 508.61L687.64 510.48L689.47 507.9L690.81 509.92L692.42 510.22L694.61 509.46L696.37 509.22L698.4 508.84L700.98 504.48L702.24 507.84L706.01 506.75L764.02 489.36" stroke="#33298f" stroke-width="0.9"/>
<path d="M655 503.87V481.16" stroke="#3436a8" stroke-width="1"/>
<path d="M655 481.16V431.2" stroke="#5a6ce0" stroke-width="1"/>
<path d="M543.23 560.66L656.09 526.84L660.5 523.24L664.4 516.75L665.05 508.84L665.75 508.84L666.4 516.91L670.3 520.68L674.71 521.26L676.22 520.12L678.68 519.04L680.01 517.21L682.16 518.94L684.29 518.2L686.8 514.95L688.02 517L690.42 515.63L692.35 514.81L693.64 514.88L694.9 515.12L696.31 514.1L698.55 513.03L699.91 513.67L701.39 512.35L703.32 511.81L705.82 510.66L707.57 509.01L710.76 510.46L768.48 493.16Z" fill="#fff" stroke="none"/>
<path d="M543.23 560.66L656.09 526.84L660.5 523.24L664.4 516.75L665.05 508.84L665.75 508.84L666.4 516.91L670.3 520.68L674.71 521.26L676.22 520.12L678.68 519.04L680.01 517.21L682.16 518.94L684.29 518.2L686.8 514.95L688.02 517L690.42 515.63L692.35 514.81L693.64 514.88L694.9 515.12L696.31 514.1L698.55 513.03L699.91 513.67L701.39 512.35L703.32 511.81L705.82 510.66L707.57 509.01L710.76 510.46L768.48 493.16" stroke="#33298f" stroke-width="0.9"/>
<path d="M665.4 508.84V489.83" stroke="#3436a8" stroke-width="1"/>
<path d="M665.4 489.83V448" stroke="#56d0b8" stroke-width="1"/>
<path d="M547.7 564.46L668 528.41L672.5 525.08L676.5 519.25L677.15 512.33L677.85 512.33L678.5 519.31L682.5 522.41L687 522.72L688.86 518.68L690.47 518.83L692.53 520.16L693.71 520.59L695.92 519.71L697.15 516.14L699.25 518.52L700.79 518.15L702.56 516.04L705.12 516.54L707.67 515.72L708.77 515.01L710.63 514.69L711.73 515.12L714.93 514.35L772.95 496.96Z" fill="#fff" stroke="none"/>
<path d="M547.7 564.46L668 528.41L672.5 525.08L676.5 519.25L677.15 512.33L677.85 512.33L678.5 519.31L682.5 522.41L687 522.72L688.86 518.68L690.47 518.83L692.53 520.16L693.71 520.59L695.92 519.71L697.15 516.14L699.25 518.52L700.79 518.15L702.56 516.04L705.12 516.54L707.67 515.72L708.77 515.01L710.63 514.69L711.73 515.12L714.93 514.35L772.95 496.96" stroke="#33298f" stroke-width="0.9"/>
<path d="M677.5 512.33V495.79" stroke="#3436a8" stroke-width="1"/>
<path d="M677.5 495.79V459.4" stroke="#8ad8a8" stroke-width="1"/>
<path d="M552.17 568.26L681.21 529.59L685.8 526.15L689.9 520.12L690.55 512.95L691.25 512.95L691.9 520.2L696 523.44L700.59 523.78L701.75 523.04L703.2 521.31L705.43 519.87L707.85 520.78L710.42 519.6L712.49 519.09L714.93 517.04L717.24 517.91L720.6 517.78L777.42 500.76Z" fill="#fff" stroke="none"/>
<path d="M552.17 568.26L681.21 529.59L685.8 526.15L689.9 520.12L690.55 512.95L691.25 512.95L691.9 520.2L696 523.44L700.59 523.78L701.75 523.04L703.2 521.31L705.43 519.87L707.85 520.78L710.42 519.6L712.49 519.09L714.93 517.04L717.24 517.91L720.6 517.78L777.42 500.76" stroke="#33298f" stroke-width="0.9"/>
<path d="M690.9 512.95V495.78" stroke="#3436a8" stroke-width="1"/>
<path d="M690.9 495.78V458" stroke="#5048b8" stroke-width="1"/>
<path d="M556.63 572.06L697.82 529.75L702.5 527.35L706.7 523.77L707.35 520.15L708.05 520.15L708.7 523.5L712.9 524.4L717.58 523.83L719.93 519.87L723.41 522.08L781.88 504.56Z" fill="#fff" stroke="none"/>
<path d="M556.63 572.06L697.82 529.75L702.5 527.35L706.7 523.77L707.35 520.15L708.05 520.15L708.7 523.5L712.9 524.4L717.58 523.83L719.93 519.87L723.41 522.08L781.88 504.56" stroke="#33298f" stroke-width="0.9"/>
<path d="M707.7 520.15V511.85" stroke="#3436a8" stroke-width="1"/>
<path d="M707.7 511.85V493.6" stroke="#4a5ad0" stroke-width="1"/>
<path d="M561.1 575.86L713.43 530.21L718.2 528.08L722.5 525.17L723.15 522.55L723.85 522.55L724.5 524.8L728.8 525.02L733.57 524.17L737.51 522.99L786.35 508.36Z" fill="#fff" stroke="none"/>
<path d="M561.1 575.86L713.43 530.21L718.2 528.08L722.5 525.17L723.15 522.55L723.85 522.55L724.5 524.8L728.8 525.02L733.57 524.17L737.51 522.99L786.35 508.36" stroke="#33298f" stroke-width="0.9"/>
<path d="M723.5 522.55V516.75" stroke="#3436a8" stroke-width="1"/>
<path d="M723.5 516.75V504" stroke="#4048c0" stroke-width="1"/>
<path d="M565.57 579.65L790.82 512.15" stroke="#33298f" stroke-width="0.9"/>
</g>
<path d="M440.5 371.01L440.5 473.3L574.5 587.25L799.75 519.75" fill="none" stroke="#262626" stroke-width="0.8"/>
<path d="M440.5 473.3l-4.6 -3.9M440.5 450.12l-4.6 -3.9M440.5 426.95l-4.6 -3.9M440.5 403.77l-4.6 -3.9M440.5 380.6l-4.6 -3.9M440.5 473.3l-5.2 1.6M485.17 511.28l-5.2 1.6M529.83 549.27l-5.2 1.6M574.5 587.25l-5.2 1.6M574.5 587.25l4.8 4.1M619.55 573.75l4.8 4.1M664.6 560.25l4.8 4.1M709.65 546.75l4.8 4.1M754.7 533.25l4.8 4.1M799.75 519.75l4.8 4.1" fill="none" stroke="#262626" stroke-width="0.8"/>
<text x="620.4" y="299.2" font-size="12.15" text-anchor="middle" fill="#000" font-weight="bold">Waterfall Plot of rotor's responses in Y direction</text>
<text x="432.6" y="473.5" font-size="11.4" text-anchor="end" fill="#262626">0</text>
<text x="432.6" y="450.32" font-size="11.4" text-anchor="end" fill="#262626">0.5</text>
<text x="432.6" y="427.15" font-size="11.4" text-anchor="end" fill="#262626">1</text>
<text x="432.6" y="403.97" font-size="11.4" text-anchor="end" fill="#262626">1.5</text>
<text x="432.6" y="380.8" font-size="11.4" text-anchor="end" fill="#262626">2</text>
<text x="411" y="351.8" font-size="11.4" fill="#262626">×10<tspan dy="-4.6" font-size="8.2">4</tspan></text>
<text x="0" y="0" font-size="12.1" text-anchor="middle" fill="#262626" transform="translate(407.8 424.2) rotate(-90)">FFT Magnitude</text>
<text x="431.1" y="489.5" font-size="11.4" text-anchor="end" fill="#262626">15</text>
<text x="475.77" y="526.98" font-size="11.4" text-anchor="end" fill="#262626">10</text>
<text x="520.43" y="564.47" font-size="11.4" text-anchor="end" fill="#262626">5</text>
<text x="565.1" y="601.95" font-size="11.4" text-anchor="end" fill="#262626">0</text>
<text x="446.6" y="558.4" font-size="12.1" text-anchor="middle" fill="#262626">Rotor Mass (kg)</text>
<text x="586.2" y="605.85" font-size="11.4" text-anchor="middle" fill="#262626">0</text>
<text x="637.85" y="592.35" font-size="11.4" text-anchor="middle" fill="#262626">200</text>
<text x="682.9" y="578.85" font-size="11.4" text-anchor="middle" fill="#262626">400</text>
<text x="727.95" y="565.35" font-size="11.4" text-anchor="middle" fill="#262626">600</text>
<text x="773" y="551.85" font-size="11.4" text-anchor="middle" fill="#262626">800</text>
<text x="821.35" y="538.35" font-size="11.4" text-anchor="middle" fill="#262626">1000</text>
<text x="717.4" y="603.8" font-size="12.1" text-anchor="middle" fill="#262626">Frequency (Hz)</text>
</svg>
<svg id="mesh" width="1280" height="720" viewBox="0 0 1280 720" role="img" aria-label="Finite difference grid">
<rect x="915" y="328" width="313" height="198" fill="#fff"/>
<path d="M940 371.5V511.9M957.68 371.5V511.9M975.36 371.5V511.9M993.04 371.5V511.9M1010.72 371.5V511.9M1028.4 371.5V511.9M1046.08 371.5V511.9M1063.76 371.5V511.9M1081.16 371.5V511.9M1098.56 371.5V511.9M1115.96 371.5V511.9M1133.36 371.5V511.9M1150.76 371.5V511.9M1168.16 371.5V511.9M1185.56 371.5V511.9M940 371.5H1185.4M940 389.05H1185.4M940 406.6H1185.4M940 424.15H1185.4M940 441.7H1185.4M940 459.25H1185.4M940 476.8H1185.4M940 494.35H1185.4M940 511.9H1185.4" fill="none" stroke="#3f3838" stroke-width="1.1"/>
<path d="M940 371.5V347.6M1185.4 441.7H1205" fill="none" stroke="#3f3838" stroke-width="1.1"/>
<path d="M940 339.6l2.5 8.6h-5z" fill="#000"/>
<path d="M1213.4 441.7l-9 -2.5v5z" fill="#000"/>
<g fill="#e3141c"><circle cx="1081.1" cy="406.6" r="2"/><circle cx="1063.65" cy="424.15" r="2"/><circle cx="1081.1" cy="424.15" r="2"/><circle cx="1098.55" cy="424.15" r="2"/><circle cx="1081.1" cy="441.7" r="2"/></g>
<g class="ser" font-style="italic" fill="#e8505a" font-size="7.2">
<text x="1083.3" y="414">i,j+1</text><text x="1083.3" y="432.15">i,j</text><text x="1064.05" y="432.15" text-anchor="end">i−1,j</text><text x="1099.55" y="432.15">i+1,j</text><text x="1083.3" y="450.7">i,j−1</text>
</g>
<g class="ser" fill="#1c1c1c" font-size="10.4">
<text x="940.4" y="338.4" text-anchor="middle" font-style="italic" font-size="11.5">z</text><text x="1219.8" y="445.1" text-anchor="middle" font-style="italic" font-size="11.5">θ</text><text x="935" y="374.7" text-anchor="end" font-style="italic">N</text><text x="937.4" y="392.25" text-anchor="end"><tspan font-style="italic">N</tspan>−1</text><text x="932.6" y="426.55" text-anchor="middle" font-style="italic">j</text><text x="934.6" y="497.35" text-anchor="end">2</text><text x="934.6" y="515.3" text-anchor="end">1</text><text x="940.4" y="521.4" text-anchor="middle">1</text><text x="957.6" y="521.4" text-anchor="middle">2</text><text x="1081" y="521.2" text-anchor="middle" font-style="italic">i</text><text x="1166.8" y="521.4" text-anchor="middle"><tspan font-style="italic">M</tspan>−1</text><text x="1184.4" y="521.4" text-anchor="middle" font-style="italic">M</text><text x="1026" y="519.4" text-anchor="middle" font-size="7" letter-spacing="1.1">······</text><text x="1127" y="519.4" text-anchor="middle" font-size="7" letter-spacing="1.1">······</text><text text-anchor="middle" font-size="7" letter-spacing="1.1" transform="translate(934.4 406.6) rotate(-90)">······</text><text text-anchor="middle" font-size="7" letter-spacing="1.1" transform="translate(934.4 467.6) rotate(-90)">······</text>
</g>
<g class="ser" fill="#2f2fd0" font-size="11.4">
<text x="936.2" y="445.1" text-anchor="end" font-size="11">0</text><text x="1188.6" y="375.1" font-style="italic">L/2</text><text x="1186.6" y="451.3">2π</text><text x="1187" y="512.7">−<tspan font-style="italic">L</tspan><tspan font-style="italic">/2</tspan></text><text x="1193.4" y="418.98">Δ<tspan font-style="italic">L</tspan></text><text x="1090" y="363.9" text-anchor="middle">Δθ</text>
</g>
<path d="M1081.3 368.9q1.4 -2.6 4 -1.6q3.4 1.2 4.8 -1.6q1.4 2.8 4.8 1.6q2.6 -1 4 1.6" fill="none" stroke="#2f2fd0" stroke-width="0.7"/>
<path d="M1188.4 407q2.6 0.6 1.8 3.6q-0.8 3.4 1.6 4.8q-2.4 1.4 -1.6 4.8q0.8 3 -1.8 3.6" fill="none" stroke="#2f2fd0" stroke-width="0.7"/>
</svg>
<svg id="eqs" width="1280" height="720" viewBox="0 0 1280 720" role="img" aria-label="Governing equations">
<g class="ser" fill="#141414" font-size="14.8" font-style="italic">
<text x="916.4" y="571.9">ẍ</text><text x="926.4" y="575.3" font-size="9.4">r</text><text x="938" y="571.9" font-style="normal">=</text><text x="960.8" y="561.4" font-style="normal" text-anchor="middle">1</text><text x="951.2" y="584.6">m̃</text><text x="963.4" y="587.8" font-size="9.4">r</text><text x="973.4" y="571.9" font-style="normal">(</text><text x="976.6" y="571.9">w̃</text><text x="991.2" y="575.3" font-size="9.4">r</text><text x="1001" y="571.9" font-style="normal">+</text><text x="1011.6" y="571.9">f̃</text><text x="1020.4" y="575.3" font-size="9.4">p</text><text x="1029.6" y="572.9" font-size="17" font-style="normal">(</text><text x="1035.2" y="571.9">x̃</text><text x="1044.6" y="575.3" font-size="9.4">r</text><text x="1052.4" y="571.9" font-style="normal">,</text><text x="1058" y="571.9">ψ</text><text x="1069.8" y="571.9" font-style="normal">,</text><text x="1074.6" y="571.9">w̃</text><text x="1088.4" y="572.9" font-size="17" font-style="normal">)</text><text x="1097.2" y="571.9" font-style="normal">+</text><text x="1108.6" y="571.9">f̃</text><text x="1116.6" y="575.3" font-size="9.4">ub</text><text x="1129" y="572.9" font-size="17" font-style="normal">(</text><text x="1136.4" y="571.9">τ</text><text x="1145" y="572.9" font-size="17" font-style="normal">)</text><text x="1150.4" y="571.9" font-style="normal">)</text><text x="917.4" y="610.2">ψ</text><text x="922.4" y="606.8" font-style="normal">˙</text><text x="931.2" y="610.2" font-style="normal">=</text><text x="944.8" y="610.2">g</text><text x="957.4" y="611.2" font-size="17" font-style="normal">(</text><text x="963.8" y="610.2">x̃</text><text x="972.8" y="613.6" font-size="9.4">r</text><text x="980.6" y="610.2" font-style="normal">,</text><text x="986" y="610.2">ψ</text><text x="997.8" y="610.2" font-style="normal">,</text><text x="1002.4" y="610.2">w̃</text><text x="1016.8" y="611.2" font-size="17" font-style="normal">)</text><text x="915.4" y="651.2">w̃</text><text x="919.4" y="645.8" font-style="normal">˙</text><text x="933.8" y="651.2" font-style="normal">=</text><text x="954.6" y="642.2" font-style="normal" text-anchor="middle">1</text><text x="947" y="663.4">η</text><text x="955.6" y="667.6" font-size="9.4">f</text><text x="975.8" y="639.9">P̃</text><text x="984.8" y="643.6" font-size="9.4">θ</text><text x="992.4" y="640.8" font-size="17" font-style="normal">(</text><text x="999.4" y="639.9">x̃</text><text x="1008.4" y="643.4" font-size="9.4">r</text><text x="1015.2" y="639.9" font-style="normal">,</text><text x="1021" y="639.9">ψ</text><text x="1032.4" y="639.9" font-style="normal">,</text><text x="1037.6" y="639.9">w̃</text><text x="1051.8" y="640.8" font-size="17" font-style="normal">)</text><text x="1008.8" y="663.4">k</text><text x="1017.8" y="667.4" font-size="9.4">b</text><text x="1019.6" y="657.8" font-size="9.4">θ</text><text x="1061.4" y="651.2" font-style="normal">−</text><text x="1070.6" y="651.2">w̃</text>
</g>
<path d="M950 568.4H971.2M945.8 647.8H963.6M975.2 647.8H1059" stroke="#141414" stroke-width="0.9" fill="none"/>
<path d="M973.6 624.2C965.4 636 965.4 658.6 973.6 670.4M1087.8 624.2C1096 636 1096 658.6 1087.8 670.4" stroke="#141414" stroke-width="0.9" fill="none"/>
</svg>
</body>
</html>
